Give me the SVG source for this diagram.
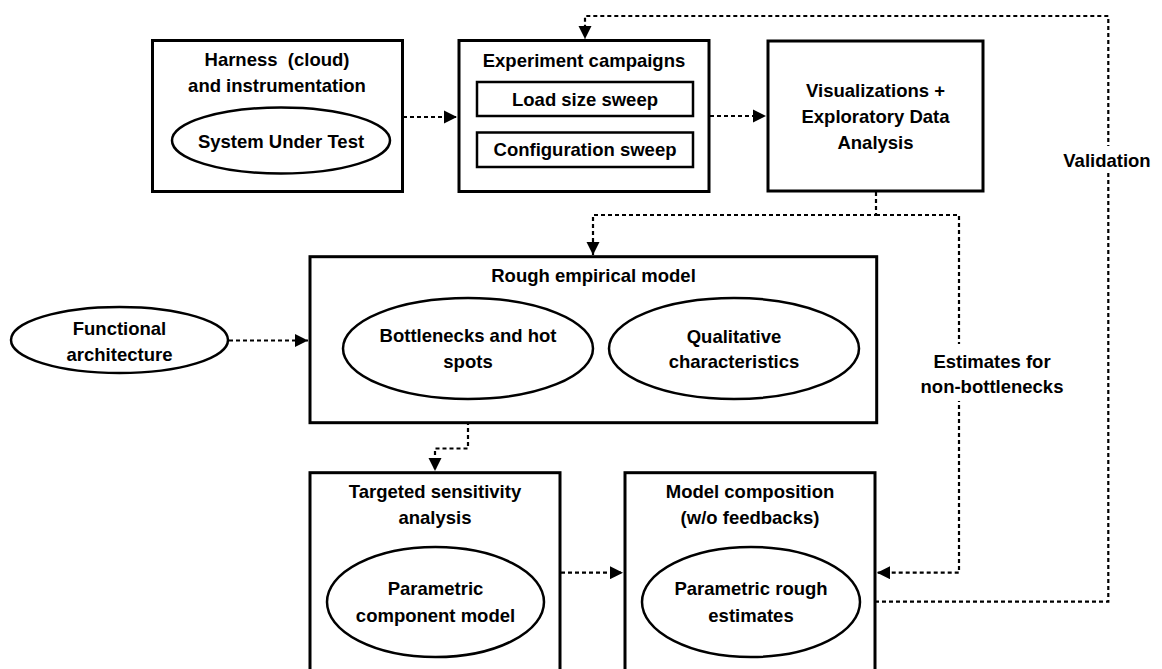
<svg xmlns="http://www.w3.org/2000/svg" width="1162" height="669" viewBox="0 0 1162 669">
<style>
text{font-family:"Liberation Sans",Arial,sans-serif;font-weight:bold;font-size:18.5px;fill:#000;text-anchor:middle}
.box{fill:#fff;stroke:#000;stroke-width:3}
.inner{fill:#fff;stroke:#000;stroke-width:2.5}
.ell{fill:#fff;stroke:#000;stroke-width:2.5}
.con{fill:none;stroke:#000;stroke-width:2.2;stroke-dasharray:4 3}
.lbl{fill:#fff;stroke:none}
</style>
<defs>
<marker id="ah" viewBox="0 0 10 10" refX="10" refY="5" markerWidth="6" markerHeight="6" orient="auto">
<path d="M0,0 L10,5 L0,10 z" fill="#000"/>
</marker>
</defs>
<rect width="1162" height="669" fill="#fff"/>
<g id="connectors">
<path class="con" d="M403,117 H457" marker-end="url(#ah)"/>
<path class="con" d="M710,116 H766" marker-end="url(#ah)"/>
<path class="con" d="M229,340.5 H308" marker-end="url(#ah)"/>
<path class="con" d="M876,192 V215 H593 V255" marker-end="url(#ah)"/>
<path class="con" d="M876,215 H959 V572.7 H877" marker-end="url(#ah)"/>
<path class="con" d="M468,400 V448.5 H435 V471" marker-end="url(#ah)"/>
<path class="con" d="M561,572.7 H623" marker-end="url(#ah)"/>
<path class="con" d="M861,601.7 H1108.3 V16 H585 V39" marker-end="url(#ah)"/>
</g>
<g id="label-validation">
<rect class="lbl" x="1058" y="146" width="100" height="26"/>
<text x="1107" y="166.7">Validation</text>
</g>
<g id="label-estimates">
<rect class="lbl" x="915" y="344" width="154" height="57"/>
<text x="992" y="368.3">Estimates for</text>
<text x="992" y="393.3">non-bottlenecks</text>
</g>
<g id="harness">
<rect class="box" x="152.5" y="40.5" width="250" height="151"/>
<text x="277" y="65.5" xml:space="preserve">Harness  (cloud)</text>
<text x="277" y="91.7">and instrumentation</text>
<g id="sut">
<ellipse class="ell" cx="281" cy="140.5" rx="109" ry="33"/>
<text x="281" y="148.3">System Under Test</text>
</g>
</g>
<g id="experiments">
<rect class="box" x="459" y="40.5" width="250" height="151"/>
<text x="584" y="67">Experiment campaigns</text>
<g id="load-sweep">
<rect class="inner" x="477" y="82" width="216" height="34"/>
<text x="585" y="105.5">Load size sweep</text>
</g>
<g id="config-sweep">
<rect class="inner" x="477" y="132.5" width="216" height="34.5"/>
<text x="585" y="156">Configuration sweep</text>
</g>
</g>
<g id="visualizations">
<rect class="box" x="768" y="41" width="215" height="150"/>
<text x="875.5" y="96.7">Visualizations +</text>
<text x="875.5" y="123">Exploratory Data</text>
<text x="875.5" y="148.7">Analysis</text>
</g>
<g id="functional">
<ellipse class="ell" cx="119.5" cy="340" rx="108.5" ry="33"/>
<text x="119.5" y="335">Functional</text>
<text x="119.5" y="360.7">architecture</text>
</g>
<g id="rough-model">
<rect class="box" x="310" y="256.7" width="566.7" height="166"/>
<text x="593.5" y="281.5">Rough empirical model</text>
<g id="bottlenecks">
<ellipse class="ell" cx="468" cy="348.5" rx="125" ry="50.5"/>
<text x="468" y="341.7">Bottlenecks and hot</text>
<text x="468" y="368">spots</text>
</g>
<g id="qualitative">
<ellipse class="ell" cx="734" cy="348.5" rx="125" ry="50.5"/>
<text x="734" y="342.7">Qualitative</text>
<text x="734" y="368.3">characteristics</text>
</g>
</g>
<g id="sensitivity">
<rect class="box" x="310" y="472.7" width="250" height="220"/>
<text x="435" y="498.3">Targeted sensitivity</text>
<text x="435" y="523.5">analysis</text>
<g id="component-model">
<ellipse class="ell" cx="435.5" cy="602" rx="108.5" ry="55"/>
<text x="435.5" y="595">Parametric</text>
<text x="435.5" y="622.3">component model</text>
</g>
</g>
<g id="composition">
<rect class="box" x="625" y="472.7" width="250" height="220"/>
<text x="750" y="498.3">Model composition</text>
<text x="750" y="523.5">(w/o feedbacks)</text>
<g id="rough-estimates">
<ellipse class="ell" cx="751" cy="602" rx="109" ry="55"/>
<text x="751" y="595">Parametric rough</text>
<text x="751" y="622.3">estimates</text>
</g>
</g>
</svg>
